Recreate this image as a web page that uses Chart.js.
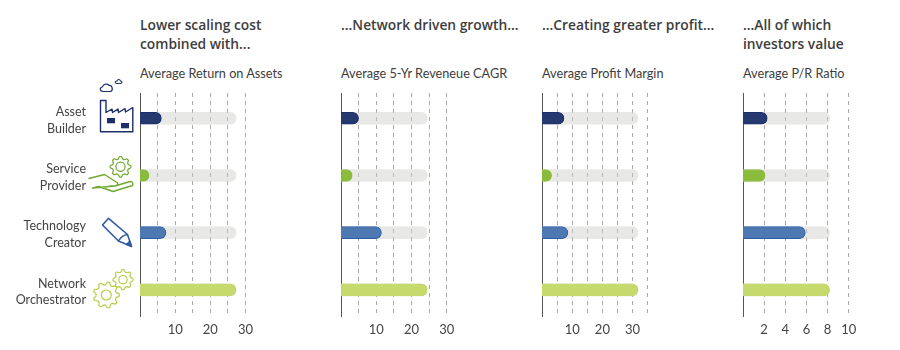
<!DOCTYPE html>
<html><head><meta charset="utf-8">
<script src="https://cdn.jsdelivr.net/npm/chart.js@4"></script>
<style>
html,body{margin:0;padding:0;background:#fff}
#stage{position:relative;width:900px;height:350px;overflow:hidden;font-family:Lato,sans-serif;color:#3d3d3d}
canvas{position:absolute;top:0}
.title{position:absolute;top:15px;font-family:"Open Sans",sans-serif;font-size:13.8px;font-weight:600;line-height:19px;white-space:pre}
.sub{position:absolute;top:64px;font-size:12.7px;line-height:18px;white-space:pre}
svg{position:absolute;left:0;top:0}
</style></head><body>
<div id="stage"></div>
<script>
const categories = [["Asset","Builder"],["Service","Provider"],["Technology","Creator"],["Network","Orchestrator"]];
const rowPositions = [0,1,2,3];
const titles = ["Lower scaling cost\ncombined with...","...Network driven growth...","...Creating greater profit...","...All of which\ninvestors value"];
const subtitles = ["Average Return on Assets","Average 5-Yr Reveneue CAGR","Average Profit Margin","Average P/R Ratio"];
const returnOnAssets = [6.1,2.6,7.4,27.3];
const revenueCagr = [5.0,3.2,11.5,24.5];
const profitMargin = [7.3,3.2,8.6,31.8];
const prRatio = [2.3,2.1,5.9,8.2];
const barColors = ["#26396f","#8abc3c","#4d78b2","#c5d96c"];
const barBorders = ["#1d2f6b","#8abc3c","#2f60a6","#c5d96c"];
const axisMax = [30,30,35,10];
const axisStep = [5,5,5,2];
const labelStep = [10,10,10,2];
const frames = [
 {left:0,width:260,axis:140,right:245.5},
 {left:320,width:140,axis:341,right:446.7},
 {left:520,width:140,axis:542,right:647.7},
 {left:722,width:178,axis:743,right:848.7}
];
const series = [returnOnAssets,revenueCagr,profitMargin,prRatio];
const stage = document.getElementById('stage');
const FONT = 'Lato, sans-serif';
const radius = {topLeft:0,bottomLeft:0,topRight:6,bottomRight:6};

series.forEach((vals,i)=>{
  const f = frames[i];
  const t = document.createElement('div'); t.className='title'; t.style.left=f.axis+'px'; t.textContent=titles[i]; stage.appendChild(t);
  const s = document.createElement('div'); s.className='sub'; s.style.left=f.axis+'px'; s.textContent=subtitles[i]; stage.appendChild(s);
  const c = document.createElement('canvas'); c.width=f.width; c.height=350; c.style.left=f.left+'px'; stage.appendChild(c);
  const greyMax = vals[3];
  new Chart(c,{
    type:'bar',
    data:{datasets:[
      {label:subtitles[i],data:rowPositions.map((r,k)=>({x:vals[k],y:r})),base:-axisMax[i]/10,backgroundColor:barColors,borderColor:barBorders,borderWidth:1,borderSkipped:'left',borderRadius:radius,barThickness:12,grouped:false,order:1},
      {label:'Network Orchestrator level',data:rowPositions.map(r=>({x:greyMax,y:r})),base:-axisMax[i]/10,backgroundColor:'rgba(205,205,200,0.45)',borderWidth:0,borderSkipped:'left',borderRadius:radius,barThickness:12,grouped:false,order:2}
    ]},
    options:{
      indexAxis:'y',responsive:false,animation:false,
      layout:{padding:{top:93,right:f.left+f.width-f.right,left:0,bottom:0}},
      plugins:{legend:{display:false},tooltip:{enabled:false}},
      scales:{
        x:{type:'linear',min:0,max:axisMax[i],position:'bottom',
          afterFit(sc){sc.height=34;sc.paddingLeft=0;sc.paddingRight=0;},
          border:{display:false,dash:[4,4]},
          grid:{drawTicks:false,color:ctx=>ctx.tick&&ctx.tick.value===0?'rgba(0,0,0,0)':'#a9a9a9',lineWidth:1},
          ticks:{stepSize:axisStep[i],autoSkip:false,maxRotation:0,padding:6,color:'#444',font:{family:FONT,size:13},
            callback:v=>(v>0&&v%labelStep[i]===0)?String(v):''}
        },
        y:{type:'linear',min:-0.442,max:3.456,reverse:true,position:'left',offset:false,
          afterFit(sc){sc.width=f.axis-f.left;sc.paddingTop=0;sc.paddingBottom=0;},
          afterBuildTicks(sc){sc.ticks=rowPositions.map(v=>({value:v}));},
          border:{display:true,color:'#555',width:1},
          grid:{display:false,drawTicks:false,offset:false},
          ticks:{display:i===0,padding:54,labelOffset:2,color:'#444',autoSkip:false,font:{family:FONT,size:12.5,lineHeight:1.32},
            callback:v=>categories[v]}
        }
      }
    }
  });
});

/* decorative icons */
function gear(cx,cy,ro,ri,n){let d='';for(let k=0;k<n*4;k++){const a=(k-0.5)/(n*4)*Math.PI*2;const r=(k%4<2)?ro:ri;d+=(k?'L':'M')+(cx+r*Math.cos(a)).toFixed(1)+','+(cy+r*Math.sin(a)).toFixed(1);}return d+'Z';}
const navy='#1d2f6b',green='#6fa92f',blue='#2f5b9e',lime='#b7cd48';
stage.insertAdjacentHTML('beforeend',`<svg width="900" height="350" fill="none" stroke-linejoin="round" stroke-linecap="round">
<path d="M100.5,131.7V100.5H106V112.5L112,109L112.5,112.5L118,109L118.5,112.5L125,108.5L125.5,112L132.8,107.5V131.7Z" stroke="${navy}" stroke-width="1.4"/>
<rect x="107" y="118" width="8" height="5.3" fill="${navy}"/><rect x="121" y="123" width="8" height="5.3" fill="${navy}"/>
<path d="M103,91.5C99.5,91 99.5,87.5 102.5,87C103,84 108,83 109,85.5C112.5,85 113.5,90.5 110.5,91.5Z" stroke="${navy}" stroke-width="1.2"/>
<path d="M116.5,83.5C114.5,83 115,81 117,81C117.5,79 120,79 120.5,81C122.5,81 122.5,83.5 120.5,83.5Z" stroke="${navy}" stroke-width="1.1"/>
<path d="${gear(120.5,166.8,10.3,8,8)}" stroke="${green}" stroke-width="1.2"/><circle cx="120.5" cy="166.8" r="4.6" stroke="${green}" stroke-width="1.2"/>
<path d="M89,178.5L104.5,174.5L117,182.5Q119,185 115,186H110M115,186L130,181.5Q134,182 132.5,185.5L113,191.5L99,186.5L92.5,188Z" stroke="${green}" stroke-width="1.4"/>
<path d="M102.5,225L108.5,218.3L127.5,234.5L131.5,246.5L118.5,241Z" stroke="${blue}" stroke-width="1.6"/>
<path d="M118.5,241Q122,235 127.5,234.5" stroke="${blue}" stroke-width="1.4"/><path d="M131.5,246.5L126,244.5L129.5,241Z" fill="${blue}" stroke="${blue}"/>
<path d="${gear(106.3,295,13,10.2,9)}" stroke="${lime}" stroke-width="1.2"/><circle cx="106.3" cy="295" r="5" stroke="${lime}" stroke-width="1.2"/>
<path d="${gear(123,279.7,10,7.8,8)}" stroke="${lime}" stroke-width="1.2"/><circle cx="123" cy="279.7" r="4.2" stroke="${lime}" stroke-width="1.2"/>
</svg>`);
</script>
</body></html>
